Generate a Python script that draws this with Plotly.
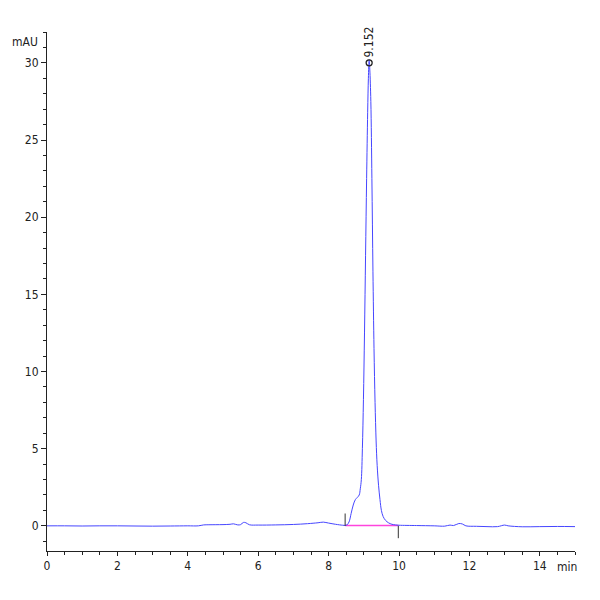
import plotly.graph_objects as go

# chromatogram trace (time in min, absorbance in mAU)
time_min = [
    0.0, 0.5, 1.0, 1.5, 2.0, 2.5, 3.0, 3.5, 4.0, 4.3, 4.45, 4.6, 5.0, 5.2, 5.3,
    5.42, 5.5, 5.58, 5.65, 5.75, 6.0, 6.5, 7.0, 7.4, 7.7, 7.85, 8.0, 8.2, 8.4,
    8.47, 8.52, 8.58, 8.64, 8.70, 8.76, 8.82, 8.87, 8.90, 8.93, 8.96, 8.99, 9.02,
    9.05, 9.08, 9.11, 9.13, 9.152, 9.17, 9.20, 9.23, 9.26, 9.29, 9.32, 9.35, 9.38,
    9.42, 9.46, 9.50, 9.55, 9.62, 9.70, 9.80, 9.90, 10.0, 10.5, 11.0, 11.3, 11.45,
    11.55, 11.7, 11.8, 11.9, 12.2, 12.5, 12.8, 13.0, 13.1, 13.5, 14.0, 14.5, 15.0,
]
absorbance_mau = [
    0.0, 0.0, -0.01, 0.0, 0.0, -0.01, -0.02, -0.01, 0.0, 0.0, 0.06, 0.07, 0.08, 0.1, 0.13,
    0.06, 0.08, 0.22, 0.2, 0.07, 0.05, 0.06, 0.09, 0.14, 0.2, 0.24, 0.18, 0.1, 0.04,
    0.03, 0.06, 0.25, 0.8, 1.35, 1.7, 1.85, 2.0, 2.4, 3.0, 5.0, 8.2, 12.5,
    17.5, 22.5, 26.8, 29.0, 30.2, 29.6, 27.5, 22.5, 16.5, 11.5, 8.0, 5.5, 3.9,
    2.6, 1.7, 1.0, 0.6, 0.35, 0.2, 0.1, 0.06, 0.04, 0.02, 0.0, -0.02, 0.05,
    0.02, 0.15, 0.12, 0.0, -0.03, -0.05, -0.05, 0.05, 0.0, -0.06, -0.05, -0.04, -0.05,
]

# integrated peak
peak_rt = [9.152]
peak_height = [30.0]
peak_labels = ["9.152"]
peak_start = [8.47]
peak_end = [9.98]

fig = go.Figure()

# integration baseline
fig.add_scatter(
    x=[peak_start[0], peak_end[0]], y=[0.02, 0.02],
    mode="lines", line=dict(color="#ff44dd", width=1.5), hoverinfo="skip",
)

fig.add_scatter(
    x=time_min, y=absorbance_mau, mode="lines",
    line=dict(color="#4646ff", width=1), line_shape="spline",
)

# start / end markers of the integration
fig.add_scatter(
    x=[peak_start[0], peak_start[0], None, peak_end[0], peak_end[0]],
    y=[0.0, 0.8, None, 0.0, -0.8],
    mode="lines", line=dict(color="#333333", width=1), hoverinfo="skip",
)

fig.add_scatter(
    x=peak_rt, y=peak_height, mode="markers",
    marker=dict(symbol="circle-open", size=6, color="#222222", line=dict(width=1.3)),
)

label_font = dict(family="DejaVu Sans Condensed, DejaVu Sans", size=12, color="#222222")
for rt, h, lab in zip(peak_rt, peak_height, peak_labels):
    fig.add_annotation(
        x=rt, y=h, text=lab, textangle=-90, showarrow=False,
        xanchor="center", yanchor="bottom", yshift=3,
        font=label_font,
    )

axis_font = dict(family="DejaVu Sans Condensed, DejaVu Sans", size=12, color="#222222")

fig.update_xaxes(
    range=[0, 15], showgrid=False, zeroline=False,
    showline=True, linecolor="#222222", linewidth=1,
    ticks="outside", tickvals=[0, 2, 4, 6, 8, 10, 12, 14], ticklen=4, tickcolor="#222222",
    minor=dict(dtick=0.5, tick0=0, ticks="outside", ticklen=3, tickcolor="#222222"),
    tickfont=axis_font,
)
fig.update_yaxes(
    range=[-1.63, 32], showgrid=False, zeroline=False,
    showline=True, linecolor="#222222", linewidth=1,
    ticks="outside", tickvals=[0, 5, 10, 15, 20, 25, 30], ticklen=5, tickcolor="#222222",
    minor=dict(dtick=1, tick0=0, ticks="outside", ticklen=3, tickcolor="#222222"),
    tickfont=axis_font,
)

fig.add_annotation(
    xref="paper", yref="paper", x=-0.014, y=0.98, text="mAU", showarrow=False,
    xanchor="right", yanchor="middle", font=axis_font,
)
fig.add_annotation(
    xref="paper", yref="paper", x=0.985, y=-0.014, text="min", showarrow=False,
    xanchor="center", yanchor="top", font=axis_font,
)

# the page body adds 8px on the top/left, so margins are trimmed to match
fig.update_layout(
    width=600, height=600, showlegend=False,
    plot_bgcolor="white", paper_bgcolor="white",
    margin=dict(l=39, r=33, t=24, b=57),
)

fig.write_html("out.html")
